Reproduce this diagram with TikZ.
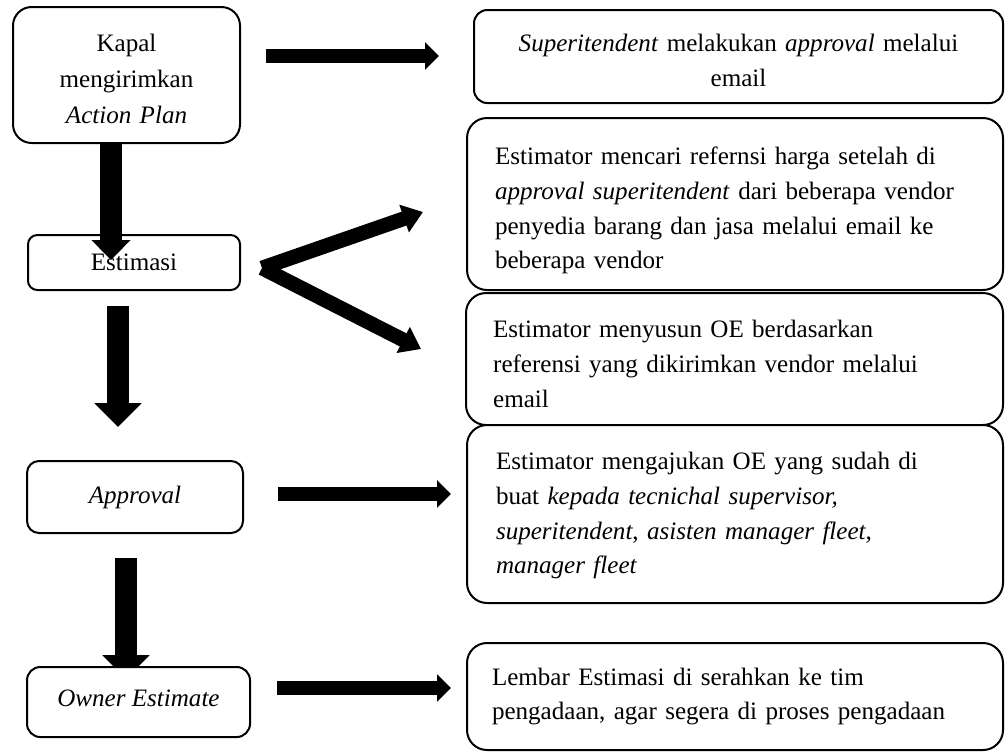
\documentclass[tikz,border=0pt]{standalone}
\usepackage{fontspec}
\setmainfont{Liberation Serif}
\usetikzlibrary{arrows.meta,calc}
\pgfdeclarelayer{background}
\pgfsetlayers{background,main}
\newcommand{\topstrut}[1]{\rule{0pt}{#1}}
\begin{document}
\begin{tikzpicture}[x=0.75pt,y=-0.75pt,
  box/.style={draw, line width=1.5pt, fill=white, inner sep=0pt, outer sep=0pt,
    font=\fontsize{18.8}{26}\selectfont},
  vbig/.style={line width=16.5pt, -{Triangle[width=34.5pt,length=18pt]}},
  vfirst/.style={line width=16.5pt, -{Triangle[width=28.5pt,length=15pt]}},
  hbig/.style={line width=10.2pt, -{Triangle[width=20pt,length=10.5pt]}},
  dbig/.style={line width=11pt, -{Triangle[width=21pt,length=15pt]}}
]
\useasboundingbox (0,0) rectangle (1005,751);

% left column
\node[box, rounded corners=14pt, minimum width=170.25pt, minimum height=102pt, align=center,
  text width=160pt, font=\fontsize{18.8}{27}\selectfont]
  (kapal) at (126.5,75) {\topstrut{18.85pt}Kapal\\mengirimkan\\\textit{Action Plan}};
\node[box, rounded corners=7pt, minimum width=159pt, minimum height=41.25pt]
  (estimasi) at (134,262.5) {Estimasi};
\node[box, rounded corners=9pt, minimum width=162pt, minimum height=54pt]
  (approval) at (135,497) {\textit{Approval}};
\node[box, rounded corners=10pt, minimum width=167.25pt, minimum height=52.5pt, text depth=6pt]
  (owner) at (138.5,702) {\textit{Owner Estimate}};

% right column
\node[box, rounded corners=10pt, minimum width=396.75pt, minimum height=69.75pt,
  text width=370pt, align=center]
  (r1) at (738.5,56.5) {\topstrut{18.85pt}\textit{Superitendent} melakukan \textit{approval} melalui\\email};
\node[box, rounded corners=15pt, minimum width=402pt, minimum height=129pt,
  text width=360pt, align=left]
  (r2) at (735,204) {\topstrut{23.35pt}Estimator mencari refernsi harga setelah di\\
  \textit{approval superitendent} dari beberapa vendor\\
  penyedia barang dan jasa melalui email ke\\
  beberapa vendor};
\node[box, rounded corners=15pt, minimum width=402.75pt, minimum height=99pt,
  text width=362pt, align=left]
  (r3) at (734.5,359) {\topstrut{20.35pt}Estimator menyusun OE berdasarkan\\
  referensi yang dikirimkan vendor melalui\\
  email};
\node[box, rounded corners=15pt, minimum width=402pt, minimum height=133.5pt,
  text width=358.5pt, align=left]
  (r4) at (735,514) {\topstrut{15.85pt}Estimator mengajukan OE yang sudah di\\
  buat \textit{kepada tecnichal supervisor,}\\
  \textit{superitendent}, \textit{asisten manager fleet,}\\
  \textit{manager fleet}};
\node[box, rounded corners=15pt, minimum width=402pt, minimum height=80.25pt,
  text width=364.5pt, align=left]
  (r5) at (735,696.5) {Lembar Estimasi di serahkan ke tim\\
  pengadaan, agar segera di proses pengadaan};

% vertical arrows
\draw[vfirst] ($(kapal.south)+(-15.5,0)$) -- ($(estimasi.north)+(-23,25)$);
\draw[vbig] ($(estimasi.south)+(-16,16)$) -- ($(approval.north)+(-17,-34)$);
\begin{pgfonlayer}{background}
\draw[vbig] ($(approval.south)+(-9,25)$) -- ($(owner.north)+(-12.5,12)$);
\end{pgfonlayer}

% horizontal arrows
\draw[hbig] ($(kapal.east)+(26,-19)$) -- ($(r1.west)+(-35,-0.5)$);
\draw[hbig] ($(approval.east)+(35,-3)$) -- ($(r4.west)+(-16,-20)$);
\draw[hbig] ($(owner.east)+(27,-14)$) -- ($(r5.west)+(-16,-8.5)$);

% diagonal arrows
\draw[dbig] ($(estimasi.east)+(22,5.5)$) -- ($(r2.west)+(-44,8)$);
\draw[dbig] ($(estimasi.east)+(22,5.5)$) -- ($(r3.west)+(-45,-10)$);
\end{tikzpicture}
\end{document}
